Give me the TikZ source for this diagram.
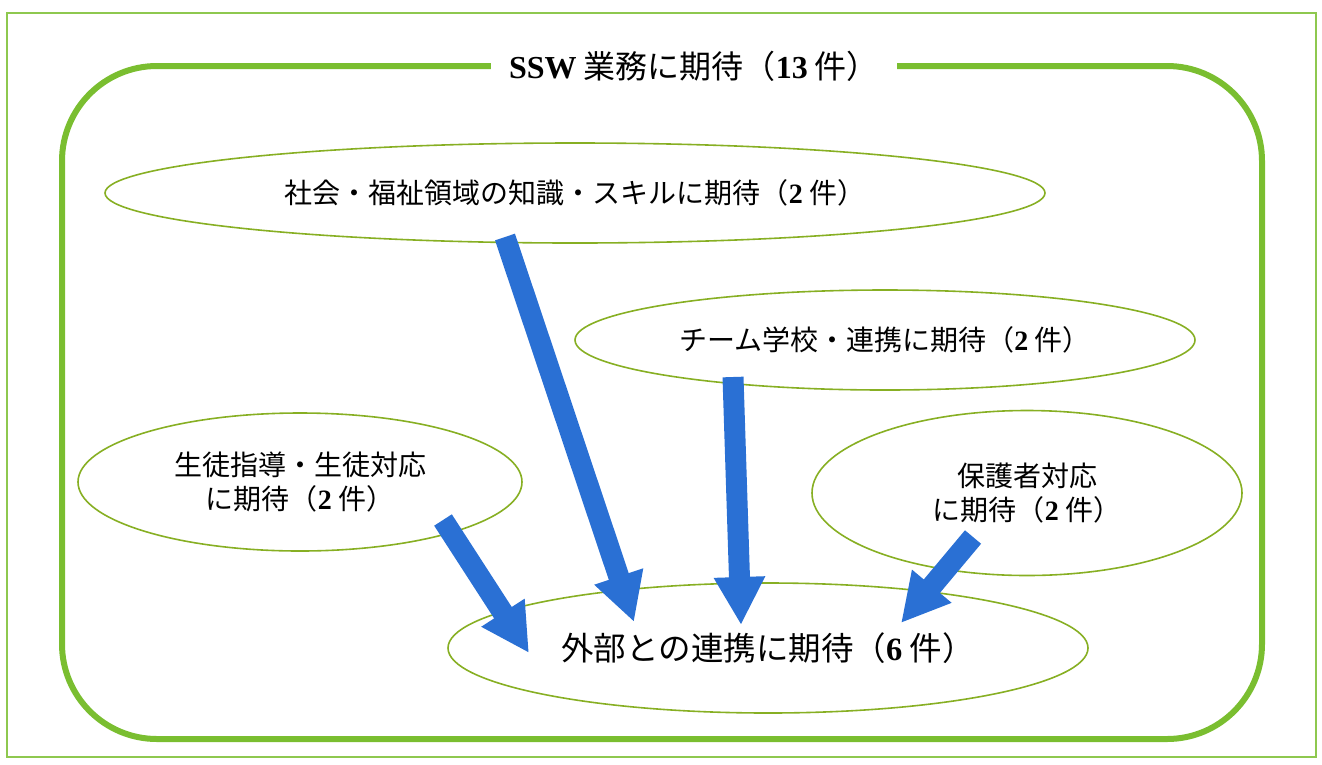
\documentclass[tikz,border=0pt]{standalone}
\usepackage{fontspec}
\setmainfont{Liberation Serif}
\newfontfamily\jpfont{Noto Sans CJK JP}
\usetikzlibrary{positioning, arrows.meta, shapes.geometric, calc}

\definecolor{framegreen}{RGB}{122,190,48}
\definecolor{ovalgreen}{RGB}{135,175,35}
\definecolor{flowblue}{RGB}{42,112,212}
\newcommand{\digit}[1]{{\rmfamily\bfseries #1}}

\begin{document}
\begin{tikzpicture}[x=1pt,y=-1pt,font=\jpfont\fontsize{28}{34}\selectfont,oval/.style={ellipse, draw=ovalgreen, line width=1.6pt, inner sep=0pt, align=center},flow/.style={draw=flowblue, line width=21pt, -{Triangle[width=48pt,length=48pt]}}]
\useasboundingbox (0,0) rectangle (1322,764);

% Frames
\draw[framegreen!85, line width=2pt] (7,13) rectangle (1316,757);
\draw[framegreen, line width=6pt, rounded corners=95pt] (62,66) rectangle (1262,739);
\node[fill=white, inner xsep=18pt, inner ysep=2pt, font=\jpfont\fontsize{32}{38}\selectfont] (title) at (694,66) {{\rmfamily\bfseries SSW} 業務に期待（\digit{13} 件）};

% Expectations
\node[oval, minimum width=940pt, minimum height=100pt] (skill) at (575,193) {社会・福祉領域の知識・スキルに期待（\digit{2} 件）};
\node[oval, minimum width=620pt, minimum height=100pt] (team) at (885,340) {チーム学校・連携に期待（\digit{2} 件）};
\node[oval, minimum width=444pt, minimum height=138pt] (guide) at (300,482) {生徒指導・生徒対応\\に期待（\digit{2} 件）};
\node[oval, minimum width=430pt, minimum height=165pt] (parent) at (1027,493) {保護者対応\\に期待（\digit{2} 件）};
\node[oval, minimum width=640pt, minimum height=130pt, font=\jpfont\fontsize{32.5}{38}\selectfont] (outside) at (768,648) {外部との連携に期待（\digit{6} 件）};

% Arrows
\draw[flow] ([shift={(-70,44)}]skill.center) -- ([shift={(-134,-26)}]outside.center);
\draw[flow] ([shift={(-152,37)}]team.center) -- ([shift={(-27,-23)}]outside.center);
\draw[flow] ([shift={(143,38)}]guide.center) -- ([shift={(-239,5)}]outside.center);
\draw[flow] ([shift={(-54,44)}]parent.center) -- ([shift={(133,-25)}]outside.center);

\end{tikzpicture}
\end{document}
